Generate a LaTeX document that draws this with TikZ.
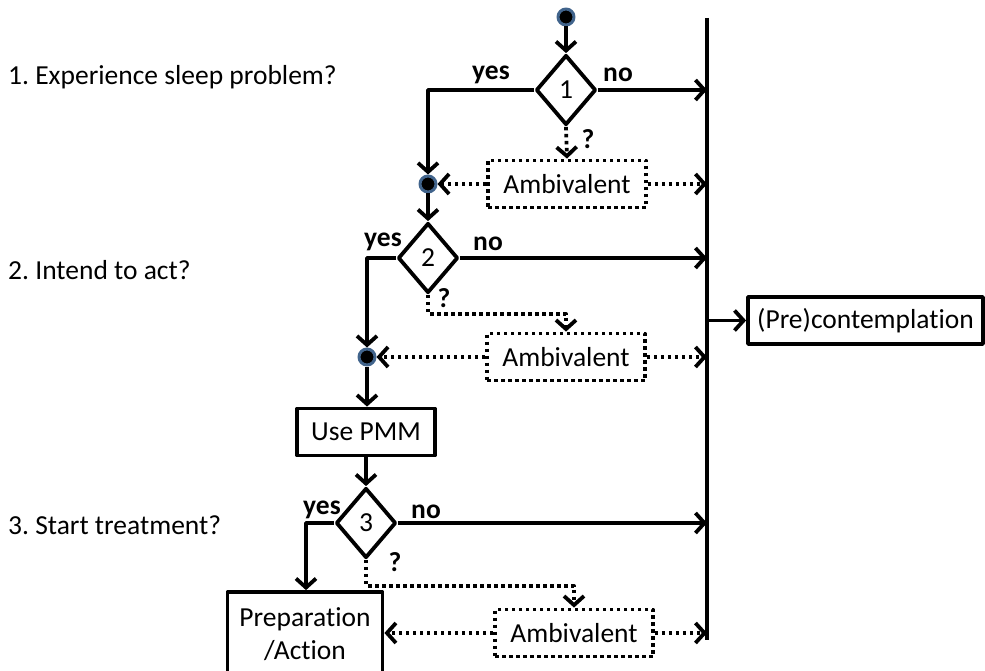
\documentclass[tikz,border=0pt]{standalone}
\usepackage{fontspec}
\setmainfont[Ligatures=NoCommon]{Carlito}
\usetikzlibrary{shapes.geometric,arrows.meta}
\definecolor{dotrim}{RGB}{65,100,140}
\frenchspacing
\begin{document}
\begin{tikzpicture}[x=1pt, y=-1pt, font=\fontsize{27.5}{33}\selectfont, line join=round,
    line width=3.8pt, >={Straight Barb[length=9pt,width=20pt]},
    decision/.style={draw, diamond, inner sep=0pt, minimum width=60, minimum height=70},
    box/.style={draw, rectangle, inner sep=2pt},
    ambbox/.style={draw, rectangle, dash pattern=on 3.5pt off 3.5pt, minimum width=158, minimum height=47},
    dotarrow/.style={->, dash pattern=on 3.5pt off 3.5pt},
    junction/.style={circle, fill=black, draw=dotrim, line width=3pt, inner sep=0pt, minimum size=16},
    lbl/.style={font=\fontsize{27.5}{33}\selectfont\bfseries}]
  \useasboundingbox (0,0) rectangle (985,671);
  % questions
  \node[anchor=west] (q1) at (3,77) {1. Experience sleep problem?};
  \node[anchor=west] (q2) at (3,270) {2. Intend to act?};
  \node[anchor=west] (q3) at (3,525) {3. Start treatment?};
  % bar to (pre)contemplation
  \coordinate (bartop) at (707,18);
  \coordinate (barbot) at (707,640);
  \draw (bartop) -- (barbot);
  \node[box, minimum width=235, minimum height=47] (pre) at (865.5,320.5) {(Pre)contemplation};
  \draw[->] (pre.west -| bartop) -- (pre.west);
  % step 1
  \node[junction] (dot0) at (566,17) {};
  \node[decision] (d1) at (566,90) {1};
  \node[ambbox] (amb1) at (567,184) {Ambivalent};
  \node[junction] (dot1) at (428,184) {};
  \draw[->] (dot0) -- (d1.north);
  \draw[->] (d1.west) -| (dot1);
  \draw[->] (d1.east) -- (d1.east -| bartop);
  \draw[dotarrow] (d1.south) -- (amb1.north);
  \draw[dotarrow] (amb1.west) -- (dot1);
  \draw[dotarrow] (amb1.east) -- (amb1.east -| bartop);
  \node[lbl] at (491,75) {yes};
  \node[lbl] at (618,75) {no};
  \node[lbl] at (588,139) {?};
  % step 2
  \node[decision] (d2) at (428,258) {2};
  \node[ambbox] (amb2) at (566,357) {Ambivalent};
  \node[junction] (dot2) at (367,357) {};
  \draw[->] (dot1) -- (d2.north);
  \draw[->] (d2.west) -| (dot2);
  \draw[->] (d2.east) -- (d2.east -| bartop);
  \draw[dotarrow] (d2.south) -- ++(0,19) -| (amb2.north);
  \draw[dotarrow] (amb2.west) -- (dot2);
  \draw[dotarrow] (amb2.east) -- (amb2.east -| bartop);
  \node[lbl] at (383,242) {yes};
  \node[lbl] at (488,244) {no};
  \node[lbl] at (444,298) {?};
  % step 3
  \node[box, minimum width=138, minimum height=47] (pmm) at (366,432) {Use PMM};
  \node[decision] (d3) at (366,523) {3};
  \node[box, minimum width=155, minimum height=84, align=center] (prep) at (305,634) {Preparation\\/Action};
  \node[ambbox] (amb3) at (574,633) {Ambivalent};
  \draw[->] (dot2) -- (pmm.north -| dot2);
  \draw[->] (pmm) -- (d3);
  \draw[->] (d3.west) -| (prep.north -| 306,0);
  \draw[->] (d3.east) -- (d3.east -| bartop);
  \draw[dotarrow] (d3.south) -- ++(0,26) -| (amb3.north);
  \draw[dotarrow] (amb3.west) -- (prep.east |- amb3.west);
  \draw[dotarrow] (amb3.east) -- (amb3.east -| bartop);
  \node[lbl] at (322,510) {yes};
  \node[lbl] at (426,512) {no};
  \node[lbl] at (395,562) {?};
\end{tikzpicture}
\end{document}
